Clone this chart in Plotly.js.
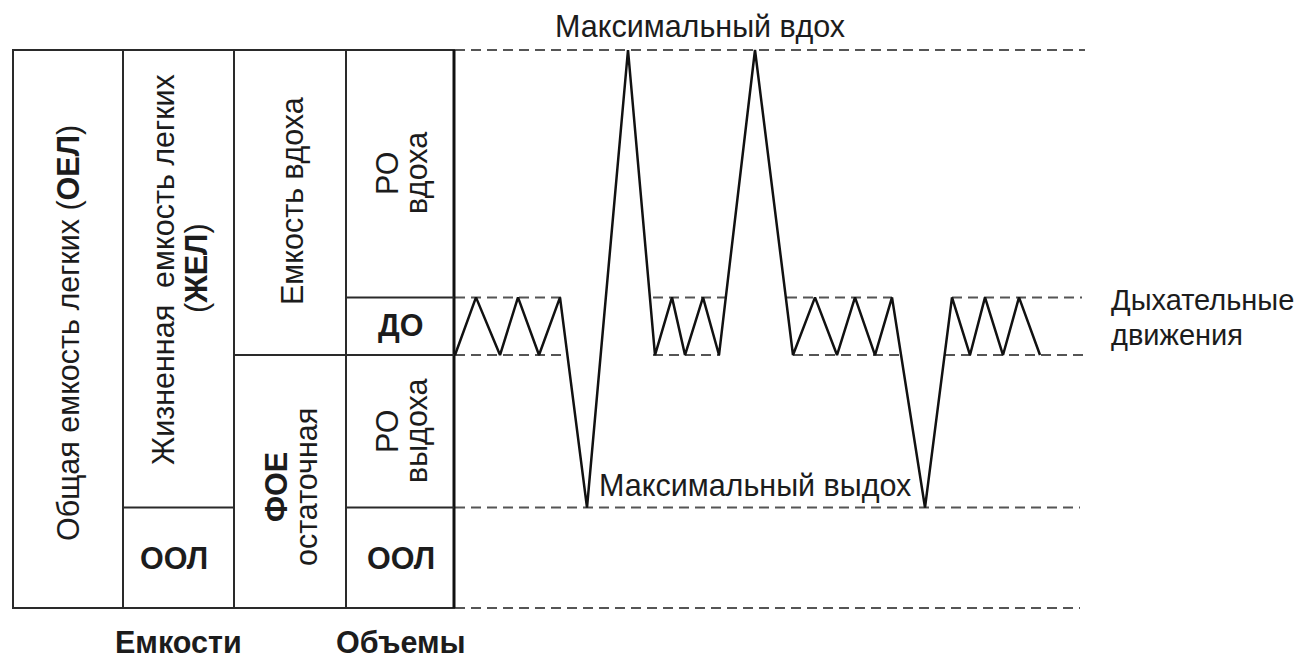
<!DOCTYPE html>
<html>
<head>
<meta charset="utf-8">
<script src="https://cdn.plot.ly/plotly-3.0.1.min.js"></script>
<style>html,body{margin:0;padding:0;background:#fff;}#chart{width:1309px;height:660px;}</style>
</head>
<body>
<div id="chart"></div>
<script>
// ---- Data (volumes in litres, time in seconds) ----
const RV = 1.08;          // residual volume level
const FRC = 2.72;         // functional residual capacity level
const EI = 3.34;          // end of tidal inspiration
const TLC = 6.0;          // total lung capacity
const ZERO = 0;

const time = [0,2.1,4.5,6.3,8.4,10.5,13.2,17.3,20.0,21.7,23.0,24.8,26.4,30.0,33.8,36.0,38.2,40.0,42.0,43.7,47.0,49.7,51.5,53.0,54.8,56.4,58.5];
const volume = [2.72,3.34,2.72,3.34,2.72,3.34,1.08,6.0,2.72,3.34,2.72,3.34,2.72,6.0,2.72,3.34,2.72,3.34,2.72,3.34,1.08,3.34,2.72,3.34,2.72,3.34,2.72];

// dashed reference levels and their time spans
const levelValues = [TLC, EI, FRC, RV, ZERO];
const levelSpans = [
  [[0,63]],
  [[0,10.8],[19.8,27.2],[33.2,43.7],[49.7,62.7]],
  [[0,11.2],[19.8,26.5],[33.8,44.5],[49.0,63]],
  [[0,62.5]],
  [[0,62.5]]
];

// ---- layout helpers (pixel -> paper) ----
const W = 1309, H = 660;
const px = v => v / W;
const py = v => 1 - v / H;
const FONT = '"Liberation Sans", Arial, Helvetica, sans-serif';
const FS = 30.5;
const TXT = '#1c1c1c';
const LINE = '#2a2a2a';

const shapes = [];
levelValues.forEach((lv, i) => {
  levelSpans[i].forEach(sp => {
    shapes.push({type:'line', xref:'x', yref:'y', x0:sp[0], x1:sp[1], y0:lv, y1:lv,
      line:{color:'#555', width:2, dash:'10px,6px'}, layer:'below'});
  });
});
const colX = [13, 123, 234, 346, 454];
shapes.push({type:'rect', xref:'paper', yref:'y', x0:px(colX[0]), x1:px(colX[4]), y0:ZERO, y1:TLC,
  line:{color:LINE, width:2}});
[1,2,3].forEach(i => shapes.push({type:'line', xref:'paper', yref:'y', x0:px(colX[i]), x1:px(colX[i]),
  y0:ZERO, y1:TLC, line:{color:LINE, width:2}}));
shapes.push({type:'line', xref:'paper', yref:'y', x0:px(454), x1:px(454), y0:ZERO, y1:TLC,
  line:{color:'#111', width:3}});
shapes.push({type:'line', xref:'paper', yref:'y', x0:px(colX[1]), x1:px(colX[2]), y0:RV, y1:RV, line:{color:LINE, width:2}});
shapes.push({type:'line', xref:'paper', yref:'y', x0:px(colX[2]), x1:px(colX[3]), y0:FRC, y1:FRC, line:{color:LINE, width:2}});
[EI, FRC, RV].forEach(lv => shapes.push({type:'line', xref:'paper', yref:'y', x0:px(colX[3]), x1:px(colX[4]),
  y0:lv, y1:lv, line:{color:LINE, width:2}}));

function ann(text, x, y, opts) {
  return Object.assign({text:text, xref:'paper', yref:'paper', x:px(x), y:py(y), showarrow:false,
    xanchor:'center', yanchor:'middle', font:{family:FONT, size:FS, color:TXT}}, opts || {});
}
const smallFont = {family:FONT, size:29, color:TXT};
const annotations = [
  ann('Максимальный вдох', 700, 26),
  ann('Максимальный выдох', 597, 485, {xanchor:'left'}),
  ann('Дыхательные', 1109, 300, {xanchor:'left', font:smallFont}),
  ann('движения', 1109, 334.5, {xanchor:'left', font:smallFont}),
  ann('Общая емкость легких (<b>ОЕЛ</b>)', 68, 333, {textangle:-90}),
  ann('Жизненная  емкость легких', 163, 270, {textangle:-90}),
  ann('(<b>ЖЕЛ</b>)', 197, 268, {textangle:-90}),
  ann('Емкость вдоха', 292, 201, {textangle:-90}),
  ann('<b>ФОЕ</b>', 276, 487, {textangle:-90}),
  ann('остаточная', 306, 487, {textangle:-90}),
  ann('РО', 387, 174, {textangle:-90}),
  ann('вдоха', 416, 173, {textangle:-90}),
  ann('<b>ДО</b>', 400, 325),
  ann('РО', 387, 432, {textangle:-90}),
  ann('выдоха', 416, 431, {textangle:-90}),
  ann('<b>ООЛ</b>', 174, 558),
  ann('<b>ООЛ</b>', 401, 558),
  ann('<b>Емкости</b>', 178, 642),
  ann('<b>Объемы</b>', 401, 642)
];

const trace = {x:time, y:volume, type:'scatter', mode:'lines',
  line:{color:'#111', width:2.5, shape:'linear'}, hoverinfo:'skip', cliponaxis:false};

const pxPerSec = 10, x0px = 455;
const pxPerL = 558 / 6, y0px = 608;
const layout = {
  width:W, height:H, margin:{l:0, r:0, t:0, b:0, pad:0},
  paper_bgcolor:'#fff', plot_bgcolor:'#fff', showlegend:false,
  xaxis:{range:[-x0px/pxPerSec, (W-x0px)/pxPerSec], visible:false, fixedrange:true},
  yaxis:{range:[-(H-y0px)/pxPerL, y0px/pxPerL], visible:false, fixedrange:true},
  shapes:shapes, annotations:annotations
};
Plotly.newPlot('chart', [trace], layout, {displayModeBar:false, staticPlot:true});
</script>
</body>
</html>
